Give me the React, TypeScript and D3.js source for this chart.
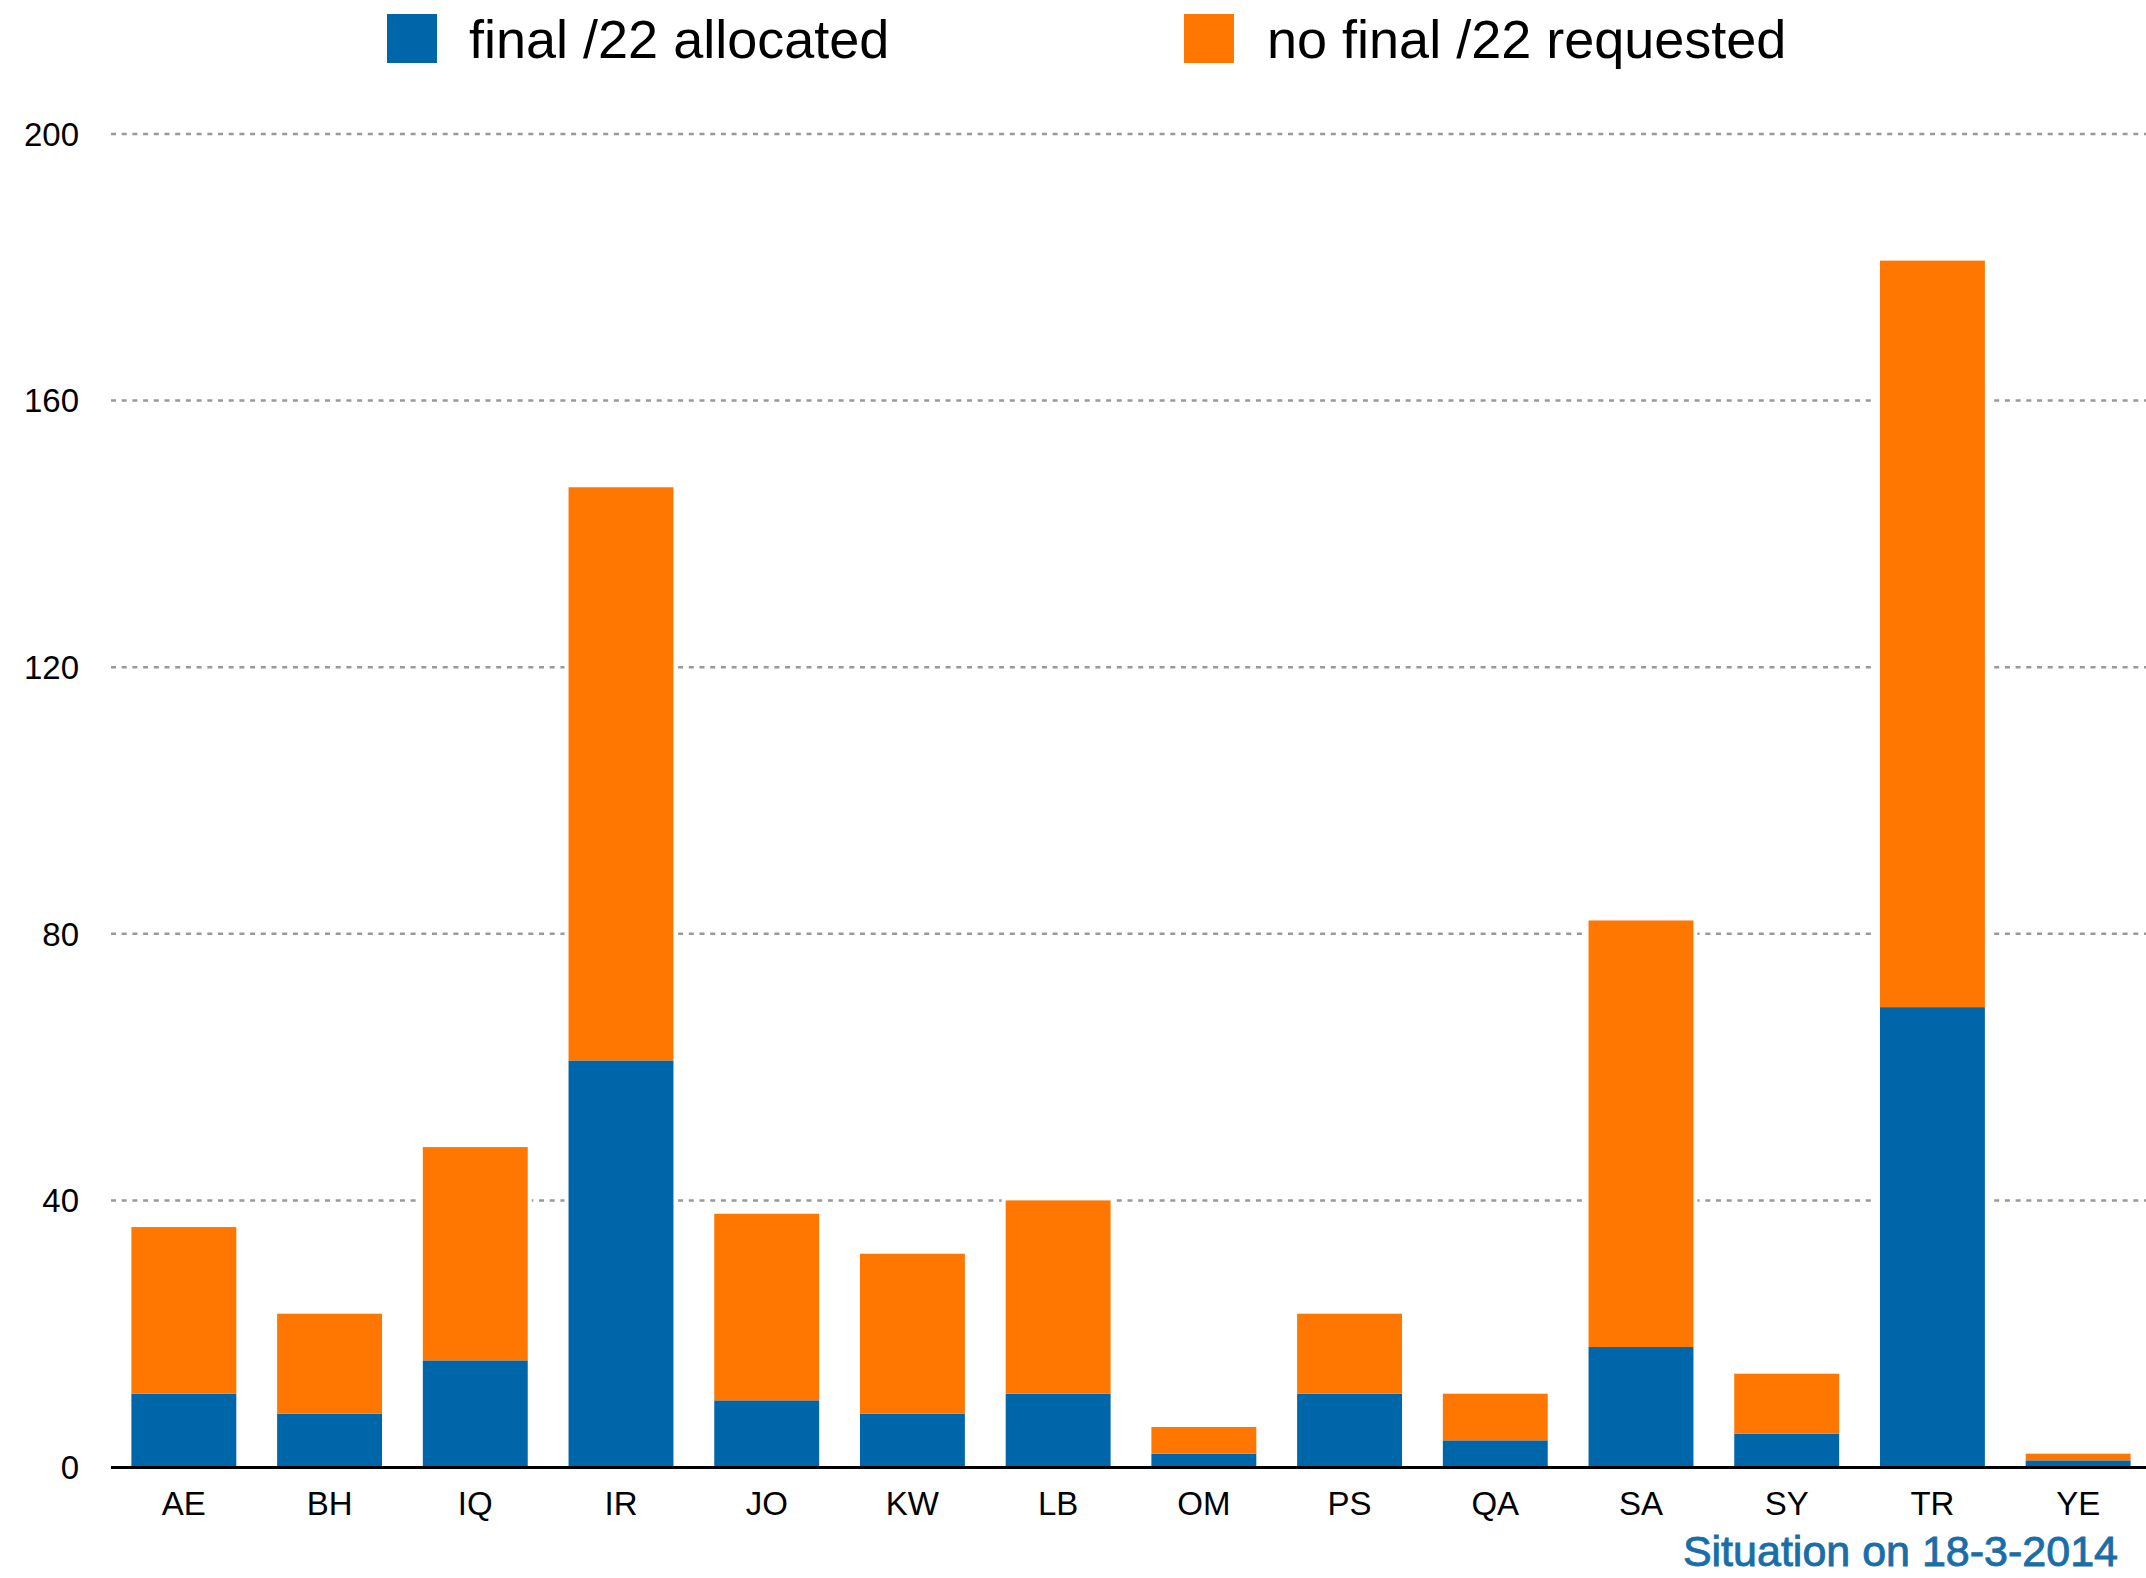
import React, { useEffect } from 'react';
import * as d3 from 'd3';

// Data
const countries = ['AE', 'BH', 'IQ', 'IR', 'JO', 'KW', 'LB', 'OM', 'PS', 'QA', 'SA', 'SY', 'TR', 'YE'];
const allocated = [11, 8, 16, 61, 10, 8, 11, 2, 11, 4, 18, 5, 69, 1];
const requested = [25, 15, 32, 86, 28, 24, 29, 4, 12, 7, 64, 9, 112, 1];
const yTicks = [0, 40, 80, 120, 160, 200];
const seriesNames = ['final /22 allocated', 'no final /22 requested'];
const seriesColors = ['#0066aa', '#ff7700'];
const footnote = 'Situation on 18-3-2014';

const W = 2146;
const H = 1578;
const FONT = '"Liberation Sans", Helvetica, Arial, sans-serif';

const App: React.FC = () => {
  useEffect(() => {
    document.body.style.margin = '0';
  }, []);

  const x = d3.scaleBand<string>()
    .domain(countries)
    .range([111, 2151])
    .paddingInner(0.28)
    .paddingOuter(0.14);

  const y = d3.scaleLinear()
    .domain([0, 200])
    .range([1467, 134]);

  const rows = countries.map((c, i) => ({ country: c, allocated: allocated[i], requested: requested[i] }));
  const stacked = d3.stack<any>().keys(['allocated', 'requested'])(rows);

  const bw = x.bandwidth();

  return (
    <svg width={W} height={H} style={{ display: 'block', background: '#fff' }} fontFamily={FONT}>
      {/* legend */}
      <g>
        <rect x={387} y={14} width={50} height={49} fill={seriesColors[0]} />
        <text x={469} y={58} fontSize={54} fill="#000">{seriesNames[0]}</text>
        <rect x={1184} y={14} width={50} height={49} fill={seriesColors[1]} />
        <text x={1267} y={58} fontSize={54} fill="#000">{seriesNames[1]}</text>
      </g>

      {/* gridlines */}
      {yTicks.filter(t => t > 0).map(t => (
        <line key={t} x1={111} x2={W} y1={y(t)} y2={y(t)}
          stroke="#999" strokeWidth={2.5} strokeDasharray="5,5.7" />
      ))}

      {/* y tick labels */}
      {yTicks.map(t => (
        <text key={t} x={79} y={y(t)} dy="0.36em" textAnchor="end" fontSize={33} fill="#000">{t}</text>
      ))}

      {/* white halo so the gridlines stop short of the bars */}
      {rows.map((r, i) => {
        const top = y(r.allocated + r.requested);
        return (
          <rect key={r.country} x={(x(r.country) || 0) - 4} y={top - 4} width={bw + 8}
            height={y(0) - top + 4} fill="#fff" />
        );
      })}

      {/* stacked bars */}
      {stacked.map((s, si) => (
        <g key={s.key} fill={seriesColors[si]}>
          {s.map((d, i) => (
            <rect key={countries[i]} x={x(countries[i])} y={y(d[1])} width={bw}
              height={y(d[0]) - y(d[1])} />
          ))}
        </g>
      ))}

      {/* baseline */}
      <line x1={111} x2={W} y1={y(0) + 0.5} y2={y(0) + 0.5} stroke="#000" strokeWidth={3} />

      {/* x labels */}
      {countries.map(c => (
        <text key={c} x={(x(c) || 0) + bw / 2} y={1515} textAnchor="middle" fontSize={33} fill="#000">{c}</text>
      ))}

      <text x={2118} y={1566} textAnchor="end" fontSize={43} fill="#1a6ea8"
        stroke="#1a6ea8" strokeWidth={0.9}>{footnote}</text>
    </svg>
  );
};

export default App;
